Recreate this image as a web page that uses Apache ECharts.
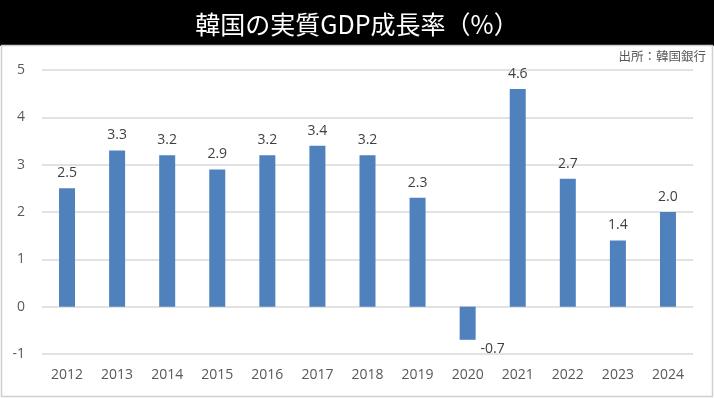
<!DOCTYPE html>
<html lang="ja">
<head>
  <meta charset="utf-8" />
  <title>韓国の実質GDP成長率</title>
  <style>
    html, body { margin: 0; padding: 0; background: #ffffff; }
    #main { width: 714px; height: 398px; }
  </style>
</head>
<body>
  <div id="main"></div>
  <script src="https://cdn.jsdelivr.net/npm/echarts@6/dist/echarts.min.js"></script>
  <script>
    let years = ["2012", "2013", "2014", "2015", "2016", "2017", "2018", "2019", "2020", "2021", "2022", "2023", "2024"];
    let growth = [2.5, 3.3, 3.2, 2.9, 3.2, 3.4, 3.2, 2.3, -0.7, 4.6, 2.7, 1.4, 2.0];
    let yTicks = [-1, 0, 1, 2, 3, 4, 5];

    let font = "'Noto Sans CJK JP', 'Noto Sans', sans-serif";
    let numFont = "'Open Sans', 'Noto Sans', sans-serif";

    let barData = growth.map(function (v) {
      if (v < 0) {
        return {
          value: v,
          label: { position: "bottom", distance: 2, offset: [25, 0] },
        };
      }
      return v;
    });

    option = {
      animation: false,
      backgroundColor: "#ffffff",
      textStyle: { fontFamily: font },
      graphic: [
        {
          type: "rect",
          shape: { x: 0, y: 0, width: 714, height: 46 },
          style: { fill: "#000000" },
          z: 0,
        },
        {
          type: "rect",
          shape: { x: 1.5, y: 45.5, width: 711, height: 351 },
          style: { fill: "none", stroke: "#d0d0d0", lineWidth: 1.5 },
          z: 0,
        },
        {
          type: "text",
          right: 8,
          top: 50,
          style: {
            text: "出所：韓国銀行",
            fill: "#595959",
            font: "12.5px " + font,
          },
        },
      ],
      title: {
        text: "韓国の実質GDP成長率（%）",
        left: "center",
        top: 7,
        textStyle: {
          color: "#ffffff",
          fontSize: 25,
          fontWeight: "normal",
          fontFamily: font,
        },
      },
      grid: {
        top: 70,
        bottom: 44,
        left: 42,
        right: 21,
      },
      xAxis: {
        type: "category",
        data: years,
        position: "bottom",
        axisLine: { show: false, onZero: false },
        axisTick: { show: false },
        axisLabel: {
          color: "#595959",
          fontSize: 14,
          fontFamily: numFont,
          margin: 14,
        },
      },
      yAxis: {
        type: "value",
        min: yTicks[0],
        max: yTicks[yTicks.length - 1],
        interval: 1,
        axisLine: { show: false },
        axisTick: { show: false },
        axisLabel: {
          color: "#595959",
          fontSize: 14,
          fontFamily: numFont,
          margin: 17,
        },
        splitLine: { lineStyle: { color: "#d9d9d9", width: 1.5 } },
      },
      series: [
        {
          type: "bar",
          data: barData,
          barWidth: 16,
          itemStyle: { color: "#4f81bd" },
          label: {
            show: true,
            position: "top",
            distance: 8,
            color: "#404040",
            fontSize: 14,
            fontFamily: numFont,
            formatter: function (p) {
              return p.value.toFixed(1);
            },
          },
        },
      ],
    };

    let chart = echarts.init(document.getElementById("main"));
    chart.setOption(option);

    window.onresize = function () {
      chart.resize();
    };
  </script>
</body>
</html>
